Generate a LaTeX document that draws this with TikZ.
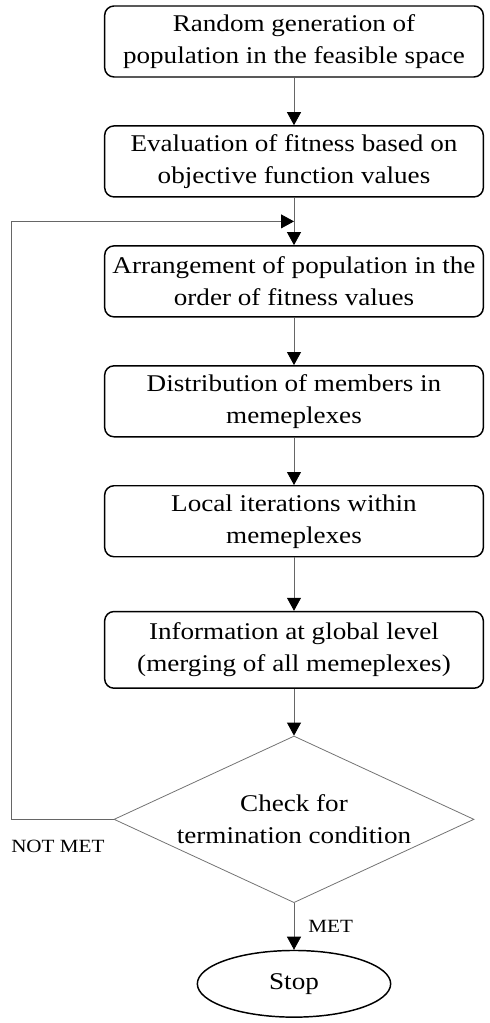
\documentclass[tikz,border=0pt]{standalone}
\usepackage{fontspec}
\setmainfont[FakeStretch=1.13]{Liberation Serif}
\usetikzlibrary{arrows.meta,shapes.geometric,positioning,calc}
\tikzset{
    stage/.style={
        rectangle,
        rounded corners=7pt,
        draw=black,
        line width=1.1pt,
        minimum width=284pt,
        minimum height=53.25pt,
        align=center,
        font=\fontsize{18}{24}\selectfont,
    },
    test/.style={
        diamond,
        aspect=2.16,
        draw=black!55,
        line width=0.6pt,
        minimum width=270pt,
        minimum height=125pt,
        inner sep=0pt,
        align=center,
        font=\fontsize{18}{24}\selectfont,
    },
    halt/.style={
        ellipse,
        draw=black,
        line width=1.1pt,
        minimum width=145pt,
        minimum height=50pt,
        font=\fontsize{18}{24}\selectfont,
    },
    flow/.style={
        draw=black!60,
        line width=0.6pt,
        -{Triangle[width=10.5pt,length=9.75pt,color=black]},
    },
    tag/.style={
        inner sep=0pt,
        font=\fontsize{14}{17}\selectfont,
    },
    node distance=35.6pt,
}
\begin{document}
\begin{tikzpicture}[x=0.75pt,y=-0.75pt]
    \useasboundingbox (0,0) rectangle (489,1023);
    \node [stage] at (294,41.5) (init) {Random generation of\\population in the feasible space};
    \node [stage,below=of init] (eval) {Evaluation of fitness based on\\objective function values};
    \node [stage,below=of eval] (sort) {Arrangement of population in the\\order of fitness values};
    \node [stage,below=of sort] (split) {Distribution of members in\\memeplexes};
    \node [stage,below=of split] (local) {Local iterations within\\memeplexes};
    \node [stage,below=40pt of local,minimum height=57.5pt] (merge) {Information at global level\\(merging of all memeplexes)};
    \node [test,below=35pt of merge] (check) {Check for\\termination condition};
    \node [halt,below=35pt of check] (stop) {Stop};
    \coordinate (rejoin) at ($(eval.south)!0.5!(sort.north)$);
    \coordinate (edge) at (11,0);
    \draw [flow] (init) -- (eval);
    \draw [flow] (eval) -- (sort);
    \draw [flow] (sort) -- (split);
    \draw [flow] (split) -- (local);
    \draw [flow] (local) -- (merge);
    \draw [flow] (merge) -- (check);
    \draw [flow] (check) -- node [tag,right,xshift=10.5pt] {MET} (stop);
    \draw [flow] (check.west) -- (check.west -| edge) |- (rejoin);
    \node [tag,anchor=north west] at ([yshift=-15.5pt]check.west -| edge) (notmet) {NOT MET};
\end{tikzpicture}
\end{document}
